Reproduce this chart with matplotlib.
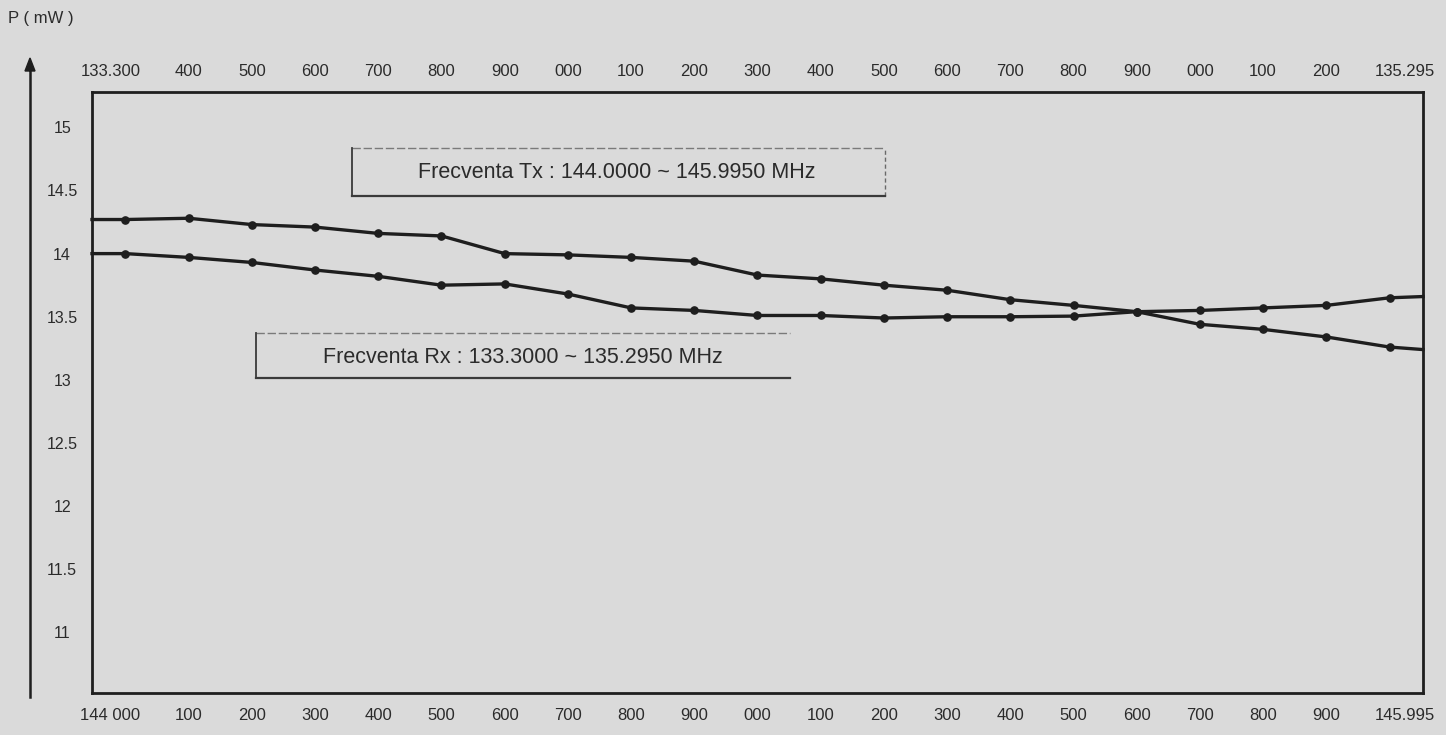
import matplotlib
matplotlib.use("Agg")
import matplotlib.pyplot as plt
from matplotlib.lines import Line2D
from matplotlib.transforms import ScaledTranslation

# ---- data ----
bottom_labels = ["144 000", "100", "200", "300", "400", "500", "600", "700", "800", "900",
                 "000", "100", "200", "300", "400", "500", "600", "700", "800", "900", "145.995"]
top_labels = ["133.300", "400", "500", "600", "700", "800", "900", "000", "100", "200",
              "300", "400", "500", "600", "700", "800", "900", "000", "100", "200", "135.295"]
y_ticks = [11, 11.5, 12, 12.5, 13, 13.5, 14, 14.5, 15]
y_tick_labels = ["11", "11.5", "12", "12.5", "13", "13.5", "14", "14.5", "15"]

series_upper = [14.27, 14.28, 14.23, 14.21, 14.16, 14.14, 14.00, 13.99, 13.97, 13.94,
                13.83, 13.80, 13.75, 13.71, 13.635, 13.59, 13.54, 13.44, 13.40, 13.34, 13.26]
series_lower = [14.00, 13.97, 13.93, 13.87, 13.82, 13.75, 13.76, 13.68, 13.57, 13.55,
                13.51, 13.51, 13.49, 13.50, 13.50, 13.505, 13.54, 13.55, 13.57, 13.59, 13.65]
# values where the curves meet the frame edges
upper_edges = [14.27, 13.24]
lower_edges = [14.00, 13.66]

tx_text = "Frecventa Tx : 144.0000 ~ 145.9950 MHz"
rx_text = "Frecventa Rx : 133.3000 ~ 135.2950 MHz"
y_title = "P ( mW )"

# ---- style ----
BG = "#dadada"
INK = "#1e1e1e"
TXT = "#2b2b2b"
FONT = ["Liberation Sans", "DejaVu Sans"]
plt.rcParams["font.family"] = FONT

W, H, DPI = 1446, 735, 100
fig = plt.figure(figsize=(W / DPI, H / DPI), dpi=DPI, facecolor=BG)

L, R, T, B = 92, 1423, 92, 693
ax = fig.add_axes([L / W, 1 - B / H, (R - L) / W, (B - T) / H])
ax.set_facecolor(BG)

n = len(series_upper)
xs = list(range(n))
x_lo, x_hi = -0.53, n - 1 + 0.53
ax.set_xlim(x_lo, x_hi)
ax.set_ylim(10.52, 15.28)

for vals, edges in ((series_upper, upper_edges), (series_lower, lower_edges)):
    ax.plot([x_lo] + xs + [x_hi], [edges[0]] + vals + [edges[1]],
            color=INK, lw=2.4, solid_joinstyle="round", zorder=3, clip_on=False)
    ax.plot(xs, vals, linestyle="none", marker="o", ms=5.2, color=INK, zorder=4)

for s in ax.spines.values():
    s.set_color(INK)
    s.set_linewidth(2.0)

# bottom x axis
ax.set_xticks(xs)
ax.set_xticklabels(bottom_labels)
ax.tick_params(axis="x", length=0, pad=11, labelsize=12, labelcolor=TXT)

# top x axis
top = ax.secondary_xaxis("top")
top.set_xticks(xs)
top.set_xticklabels(top_labels)
top.tick_params(axis="x", length=0, pad=9, labelsize=12, labelcolor=TXT)
top.spines["top"].set_visible(False)

# end labels sit a little outward
for labs in (ax.get_xticklabels(), top.get_xticklabels()):
    labs[0].set_transform(labs[0].get_transform() + ScaledTranslation(-15 / DPI, 0, fig.dpi_scale_trans))
    labs[-1].set_transform(labs[-1].get_transform() + ScaledTranslation(15 / DPI, 0, fig.dpi_scale_trans))

# y axis
ax.set_yticks(y_ticks)
ax.set_yticklabels(y_tick_labels)
ax.tick_params(axis="y", length=0, pad=21.5, labelsize=11.5, labelcolor=TXT)
for lab in ax.get_yticklabels():
    lab.set_horizontalalignment("center")

# separate vertical arrow axis at far left
ax_x = 30 / W
fig.add_artist(Line2D([ax_x, ax_x], [1 - 697 / H, 1 - 66 / H], transform=fig.transFigure,
                      color=INK, lw=1.8))
fig.patches.append(matplotlib.patches.FancyArrow(
    ax_x, 1 - 70 / H, 0, 12 / H, width=0, head_width=10 / W, head_length=13 / H,
    length_includes_head=True, transform=fig.transFigure, color=INK, figure=fig))

fig.text(8 / W, 1 - 18 / H, y_title, ha="left", va="center", fontsize=12, color=TXT)

# annotation boxes (axes fraction)
def box(x0, y0, x1, y1, right=True):
    kw = dict(transform=ax.transAxes, color="#3a3a3a", zorder=5, clip_on=False)
    ax.add_line(Line2D([x0, x0], [y0, y1], lw=1.3, **kw))
    ax.add_line(Line2D([x0, x1], [y0, y0], lw=1.6, **kw))
    ax.add_line(Line2D([x0, x1], [y1, y1], lw=1.0, ls=(0, (6, 2)), alpha=0.6, **kw))
    if right:
        ax.add_line(Line2D([x1, x1], [y0, y1], lw=1.0, ls=(0, (3, 2)), alpha=0.7, **kw))

def fx(px):
    return (px - L) / (R - L)

def fy(py):
    return (B - py) / (B - T)

box(fx(352), fy(196), fx(885), fy(148), right=True)
ax.text(fx(617), fy(172), tx_text, transform=ax.transAxes, ha="center", va="center",
        fontsize=15.5, color=TXT, zorder=6)
box(fx(256), fy(378), fx(790), fy(333), right=False)
ax.text(fx(523), fy(357), rx_text, transform=ax.transAxes, ha="center", va="center",
        fontsize=15.5, color=TXT, zorder=6)

fig.savefig("out.png", dpi=DPI, facecolor=BG)
